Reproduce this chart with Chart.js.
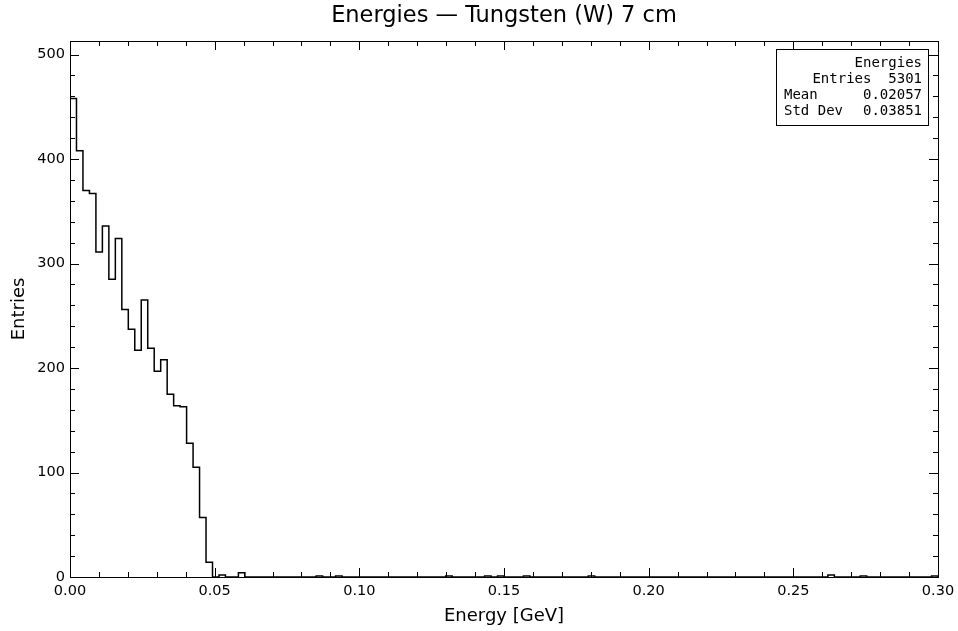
<!DOCTYPE html>
<html>
<head>
<meta charset="utf-8">
<script src="https://cdn.jsdelivr.net/npm/chart.js@4.4.0/dist/chart.umd.min.js"></script>
<style>
  html, body { margin: 0; padding: 0; background: #fff; }
  #wrap { width: 958px; height: 631px; }
</style>
</head>
<body>
<div id="wrap"><canvas id="grafico"></canvas></div>
<script>
// histograma: 134 bins entre 0 e 0.3 GeV
const xMin = 0.0;
const xMax = 0.3;
const nBins = 134;

const counts = [
    458, 408, 370, 367, 311, 336, 285, 324, 256, 237, 217, 265, 219, 197, 208, 175, 164, 163, 128, 105,
    57, 14, 0, 2, 0, 0, 4, 0, 0, 0, 0, 0, 0, 0, 0, 0, 0, 0, 1, 0,
    0, 1, 0, 0, 0, 0, 0, 0, 0, 0, 0, 0, 0, 0, 0, 0, 0, 0, 1, 0,
    0, 0, 0, 0, 1, 0, 1, 0, 0, 0, 1, 0, 0, 0, 0, 0, 0, 0, 0, 0,
    1, 0, 0, 0, 0, 0, 0, 0, 0, 0, 0, 0, 0, 0, 0, 0, 0, 0, 0, 0,
    0, 0, 0, 0, 0, 0, 0, 0, 0, 0, 0, 0, 0, 0, 0, 0, 0, 2, 0, 0,
    0, 0, 1, 0, 0, 0, 0, 0, 0, 0, 0, 0, 0, 1
];

const xTicks = [0.00, 0.05, 0.10, 0.15, 0.20, 0.25, 0.30];
const yTicks = [0, 100, 200, 300, 400, 500];
const yMax = 513;

const tituloGrafico = 'Energies — Tungsten (W) 7 cm';
const tituloX = 'Energy [GeV]';
const tituloY = 'Entries';

// caixa de estatísticas
const statsNome = 'Energies';
const statsLabels = ['Entries', 'Mean', 'Std Dev'];
const statsValores = ['5301', '0.02057', '0.03851'];

const larguraBin = (xMax - xMin) / nBins;

// pontos nas bordas dos bins (contorno em degrau)
const pontos = [{ x: xMin, y: 0 }];
counts.forEach((c, i) => pontos.push({ x: xMin + i * larguraBin, y: c }));
pontos.push({ x: xMax, y: counts[nBins - 1] });
pontos.push({ x: xMax, y: 0 });

// título centrado na área do gráfico, ticks para dentro, moldura e caixa de stats
const molduraPlugin = {
    id: 'moldura',
    afterDatasetsDraw(chart) {
        const ctx = chart.ctx;
        const a = chart.chartArea;
        const sx = chart.scales.x;
        const sy = chart.scales.y;
        const maior = 9, menor = 5;

        ctx.save();
        ctx.fillStyle = '#000';
        ctx.font = '22.5px "DejaVu Sans"';
        ctx.textAlign = 'center';
        ctx.textBaseline = 'middle';
        ctx.fillText(tituloGrafico, (a.left + a.right) / 2, 16);

        ctx.strokeStyle = '#000';
        ctx.lineWidth = 1;
        ctx.strokeRect(a.left + 0.5, a.top + 0.5, a.right - a.left, a.bottom - a.top);

        ctx.beginPath();
        // eixo x: maiores a cada 0.05, menores a cada 0.01
        for (let v = 0; v <= 30; v++) {
            const px = Math.round(sx.getPixelForValue(v / 100)) + 0.5;
            const len = (v % 5 === 0) ? maior : menor;
            ctx.moveTo(px, a.bottom); ctx.lineTo(px, a.bottom - len);
            ctx.moveTo(px, a.top); ctx.lineTo(px, a.top + len);
        }
        // eixo y: maiores a cada 100, menores a cada 20
        for (let v = 0; v <= yMax; v += 20) {
            const py = Math.round(sy.getPixelForValue(v)) + 0.5;
            const len = (v % 100 === 0) ? maior : menor;
            ctx.moveTo(a.left, py); ctx.lineTo(a.left + len, py);
            ctx.moveTo(a.right, py); ctx.lineTo(a.right - len, py);
        }
        ctx.stroke();

        // caixa de estatísticas
        const bx = 776, by = 49, bw = 152, bh = 76;
        ctx.fillStyle = '#fff';
        ctx.fillRect(bx, by, bw, bh);
        ctx.strokeRect(bx + 0.5, by + 0.5, bw, bh);
        ctx.fillStyle = '#000';
        ctx.font = '14px "DejaVu Sans Mono"';
        const dir = bx + bw - 6;
        const esq = bx + 8;
        ctx.textAlign = 'right';
        ctx.fillText(statsNome, dir, by + 14);
        ctx.fillText(statsLabels[0] + '  ' + statsValores[0], dir, by + 30);
        for (let i = 1; i < statsLabels.length; i++) {
            ctx.textAlign = 'left';
            ctx.fillText(statsLabels[i], esq, by + 30 + i * 16);
            ctx.textAlign = 'right';
            ctx.fillText(statsValores[i], dir, by + 30 + i * 16);
        }
        ctx.restore();
    }
};

const graficoEl = document.getElementById('grafico');

const graficoEnergias = new Chart(graficoEl, {
    type: 'line',
    data: {
        datasets: [{
            data: pontos,
            stepped: 'before',
            borderColor: '#000',
            borderWidth: 1.5,
            pointRadius: 0,
            fill: false
        }]
    },
    options: {
        responsive: true,
        maintainAspectRatio: false,
        animation: false,
        layout: { padding: { left: 0, right: 20, top: 41, bottom: 0 } },
        plugins: {
            legend: { display: false },
            tooltip: { enabled: false },
            title: { display: false }
        },
        scales: {
            x: {
                type: 'linear',
                min: xMin,
                max: xMax,
                grid: { display: false, drawTicks: false },
                border: { display: false },
                afterBuildTicks(scale) {
                    scale.ticks = xTicks.map(v => ({ value: v }));
                },
                afterFit(scale) {
                    scale.height = 54;
                    scale.paddingLeft = 0;
                    scale.paddingRight = 0;
                },
                ticks: {
                    color: '#000',
                    padding: 6,
                    maxRotation: 0,
                    font: { family: 'DejaVu Sans', size: 14.5 },
                    callback: v => v.toFixed(2)
                },
                title: {
                    display: true,
                    text: tituloX,
                    color: '#000',
                    font: { family: 'DejaVu Sans', size: 18 },
                    padding: { top: 2, bottom: 4 }
                }
            },
            y: {
                type: 'linear',
                min: 0,
                max: yMax,
                grid: { display: false, drawTicks: false },
                border: { display: false },
                afterBuildTicks(scale) {
                    scale.ticks = yTicks.map(v => ({ value: v }));
                },
                afterFit(scale) {
                    scale.width = 70;
                    scale.paddingTop = 0;
                    scale.paddingBottom = 0;
                },
                ticks: {
                    color: '#000',
                    padding: 5,
                    font: { family: 'DejaVu Sans', size: 14.5 }
                },
                title: {
                    display: true,
                    text: tituloY,
                    color: '#000',
                    font: { family: 'DejaVu Sans', size: 18 },
                    padding: { top: 9, bottom: 0 }
                }
            }
        }
    },
    plugins: [molduraPlugin]
});
</script>
</body>
</html>
